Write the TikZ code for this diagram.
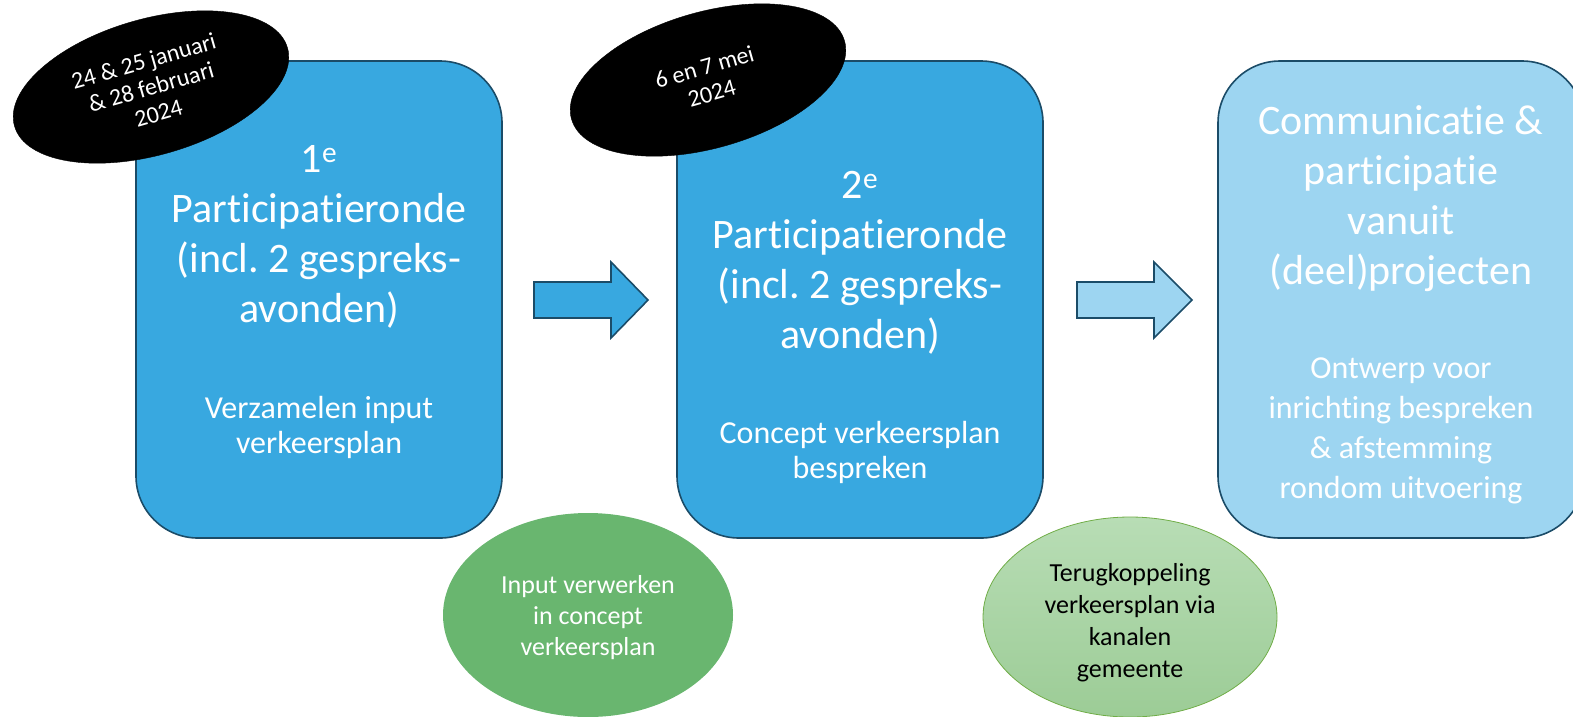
\documentclass[tikz,border=0pt]{standalone}
\usepackage{fontspec}
\setmainfont{Carlito}[Ligatures={NoCommon,NoContextual}]
\frenchspacing
\usetikzlibrary{shapes.geometric}
\definecolor{boxblue}{HTML}{38A8E0}
\definecolor{lightblue}{HTML}{9DD5F1}
\definecolor{edgeblue}{HTML}{1B4C68}
\definecolor{greenA}{HTML}{69B66F}
\definecolor{greenBtop}{HTML}{B8DDB5}
\definecolor{greenBbot}{HTML}{9CCC96}
\definecolor{greenBedge}{HTML}{70AD47}
\tikzset{
  phasebox/.style={draw=edgeblue, line width=1.6pt, rounded corners=62pt, rectangle, inner sep=0pt,
    minimum width=366pt, minimum height=477pt},
  datebubble/.style={ellipse, fill=black, draw=black, inner sep=0pt, minimum width=284pt, minimum height=136pt,
    rotate=16, text=white, align=center, font=\fontsize{24pt}{27pt}\selectfont},
  bigtext/.style={text=white, align=center, inner sep=0pt, font=\fontsize{42pt}{50pt}\selectfont},
  smalltext/.style={text=white, align=center, inner sep=0pt, font=\fontsize{32pt}{35pt}\selectfont},
  blockarrow/.style={draw=edgeblue, line width=1.6pt, line join=miter},
  greenoval/.style={ellipse, inner sep=0pt, align=center},
}
\begin{document}
\begin{tikzpicture}[x=1pt,y=-1pt]
\useasboundingbox (0,0) rectangle (1573,716);
\clip (0,0) rectangle (1573,716);
% boxes
\node[phasebox, fill=boxblue] (box1) at (319,299.5) {};
\node[phasebox, fill=boxblue] (box2) at (860,299.5) {};
\node[phasebox, fill=lightblue] (box3) at (1401,299.5) {};
% texts box1 (anchor base = baseline of last line)
\node[bigtext, anchor=base] (t1) at (319,322) {1\textsuperscript{e}\\Participatieronde\\(incl. 2 gespreks-\\avonden)};
\node[smalltext, anchor=base] (s1) at (319,453) {Verzamelen input\\verkeersplan};
% texts box2
\node[bigtext, anchor=base] (t2) at (860,348) {2\textsuperscript{e}\\Participatieronde\\(incl. 2 gespreks-\\avonden)};
\node[smalltext, anchor=base] (s2) at (860,478) {Concept verkeersplan\\bespreken};
% texts box3
\node[bigtext, anchor=base] (t3) at (1401,284) {Communicatie \&\\participatie\\vanuit\\(deel)projecten};
\node[smalltext, anchor=base, font=\fontsize{32pt}{40pt}\selectfont] (s3) at (1401,498) {Ontwerp voor\\inrichting bespreken\\\& afstemming\\rondom uitvoering};
% arrows
\draw[blockarrow, fill=boxblue] (534,282) -- (611,282) -- (611,262) -- (648,300) -- (611,338) -- (611,318) -- (534,318) -- cycle;
\draw[blockarrow, fill=lightblue] (1077,282) -- (1154,282) -- (1154,262) -- (1192,300) -- (1154,338) -- (1154,318) -- (1077,318) -- cycle;
% date bubbles
\node[datebubble] (d1) at (151,87) {24 \& 25 januari\\\& 28 februari\\2024};
\node[datebubble] (d2) at (708,80) {6 en 7 mei\\2024};
% green ovals
\node[greenoval, fill=greenA, minimum width=290pt, minimum height=204pt] (g1) at (588,615) {};
\node[text=white, align=center, inner sep=0pt, font=\fontsize{26pt}{31pt}\selectfont, anchor=base] (g1t) at (588,655) {Input verwerken\\in concept\\verkeersplan};
\node[greenoval, top color=greenBtop, bottom color=greenBbot, draw=greenBedge, line width=0.8pt,
  minimum width=294pt, minimum height=200pt] (g2) at (1130,617) {};
\node[text=black, align=center, inner sep=0pt, font=\fontsize{26pt}{32pt}\selectfont, anchor=base] (g2t) at (1130,677) {Terugkoppeling\\verkeersplan via\\kanalen\\gemeente};
\end{tikzpicture}
\end{document}
